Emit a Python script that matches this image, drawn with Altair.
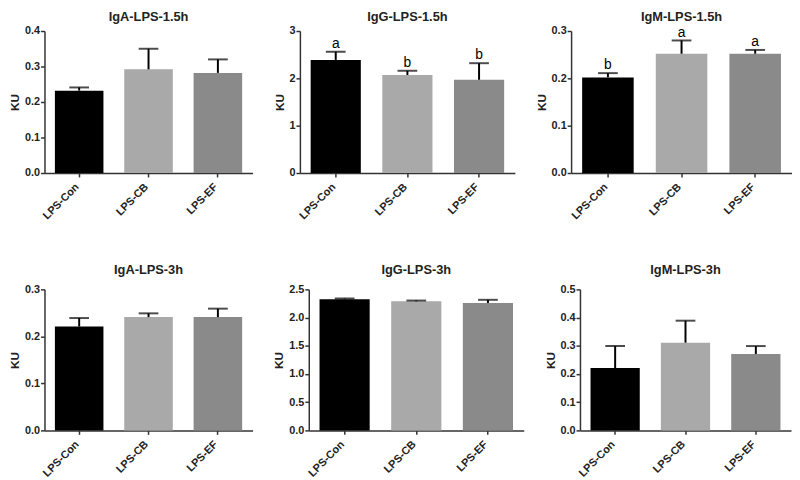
import altair as alt
import pandas as pd

groups = ["LPS-Con", "LPS-CB", "LPS-EF"]
bar_colors = ["#000000", "#a9a9a9", "#8a8a8a"]

titles = ["IgA-LPS-1.5h", "IgG-LPS-1.5h", "IgM-LPS-1.5h",
          "IgA-LPS-3h", "IgG-LPS-3h", "IgM-LPS-3h"]
means = [
    [0.232, 0.292, 0.282],
    [2.39, 2.07, 1.97],
    [0.202, 0.252, 0.252],
    [0.221, 0.241, 0.241],
    [2.326, 2.288, 2.258],
    [0.221, 0.311, 0.271],
]
uppers = [
    [0.241, 0.350, 0.320],
    [2.56, 2.16, 2.32],
    [0.211, 0.280, 0.260],
    [0.239, 0.249, 0.259],
    [2.337, 2.302, 2.315],
    [0.299, 0.389, 0.299],
]
letters = [
    ["", "", ""],
    ["a", "b", "b"],
    ["b", "a", "a"],
    ["", "", ""],
    ["", "", ""],
    ["", "", ""],
]
y_max = [0.4, 3, 0.3, 0.3, 2.5, 0.5]
y_ticks = [
    [0, 0.1, 0.2, 0.3, 0.4],
    [0, 1, 2, 3],
    [0, 0.1, 0.2, 0.3],
    [0, 0.1, 0.2, 0.3],
    [0, 0.5, 1.0, 1.5, 2.0, 2.5],
    [0, 0.1, 0.2, 0.3, 0.4, 0.5],
]
y_formats = [".1f", "d", ".1f", ".1f", ".1f", ".1f"]
widths = [211, 218, 224, 211, 218, 214]
heights = [144, 144, 144, 143, 143, 143]
title_offsets = [1, 1, 1, 7, 7, 7]

FONT = "Liberation Sans"
AXIS_COLOR = "#333333"


def panel(i):
    df = pd.DataFrame({
        "group": groups,
        "mean": means[i],
        "upper": uppers[i],
        "letter": letters[i],
    })
    xenc = alt.X(
        "group:N", sort=groups,
        scale=alt.Scale(paddingInner=0.3, paddingOuter=0.15),
        axis=alt.Axis(title=None, labelAngle=-45, labelFontSize=11,
                      labelOffset=-6, labelPadding=4),
    )
    yscale = alt.Scale(domain=[0, y_max[i]], nice=False)
    yaxis = alt.Axis(title="KU", values=y_ticks[i], tickCount=20, format=y_formats[i],
                     labelOverlap=False, labelFlush=False)
    base = alt.Chart(df)
    bars = base.mark_bar().encode(
        x=xenc,
        y=alt.Y("mean:Q", scale=yscale, axis=yaxis),
        color=alt.Color("group:N", scale=alt.Scale(domain=groups, range=bar_colors), legend=None),
    )
    err = base.mark_rule(color="black", strokeWidth=2).encode(
        x=xenc, y=alt.Y("mean:Q", scale=yscale, axis=yaxis), y2="upper:Q"
    )
    cap = base.mark_tick(color="black", thickness=2, size=20).encode(
        x=xenc, y=alt.Y("upper:Q", scale=yscale, axis=yaxis)
    )
    txt = base.mark_text(baseline="bottom", dy=-1, fontSize=14, font=FONT, color="black").encode(
        x=xenc, y=alt.Y("upper:Q", scale=yscale, axis=yaxis), text="letter:N"
    )
    return alt.layer(bars, err, cap, txt).properties(
        width=widths[i], height=heights[i],
        title=alt.TitleParams(titles[i], offset=title_offsets[i]),
    )


row1 = alt.hconcat(panel(0), panel(1), panel(2), spacing=20)
row2 = alt.hconcat(panel(3), panel(4), panel(5), spacing=20)

chart = alt.vconcat(row1, row2, spacing=43).properties(
    padding={"left": 0, "top": 0, "right": 0, "bottom": 0}
).configure_view(stroke=None).configure_axis(
    grid=False,
    domainColor=AXIS_COLOR,
    domainWidth=1.5,
    tickColor=AXIS_COLOR,
    tickWidth=1.5,
    tickSize=4,
    labelFont=FONT,
    labelFontWeight="bold",
    labelFontSize=11,
    labelColor="#222222",
    labelPadding=1,
    titleFont=FONT,
    titleFontWeight="bold",
    titleFontSize=12,
    titleColor="#222222",
    titlePadding=3,
).configure_title(
    font=FONT, fontSize=13, fontWeight="bold", color="#222222", anchor="middle"
)

chart.save("out.html", embed_options={"renderer": "svg", "actions": False})
